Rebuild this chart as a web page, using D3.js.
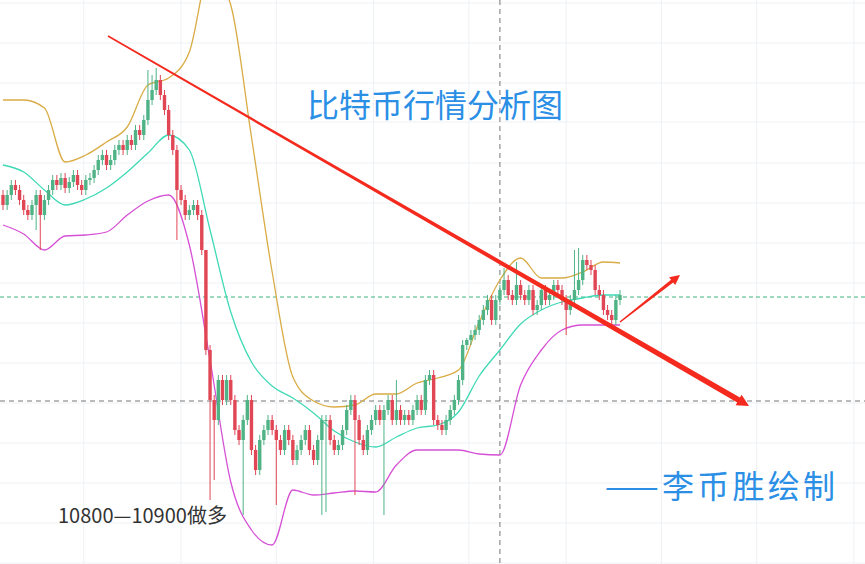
<!DOCTYPE html>
<html><head><meta charset="utf-8">
<script src="https://cdn.jsdelivr.net/npm/d3@7"></script>
<style>body{margin:0;background:#fff}svg{display:block}</style>
</head><body>
<svg id="c" width="865" height="564"></svg>
<script>
// price level = BASE - value ; values below are distance below the top price
const BASE = 11436;
const closeDepth = [205,195,185,190,200,210,215,205,195,215,
 200,190,180,185,178,188,182,175,185,190,180,178,
 170,160,155,165,160,150,145,150,140,145,130,135,
 120,100,90,80,95,110,
 135,150,190,200,215,210,205,215,
 250,350,400,420,380,400,
 380,400,430,440,420,400,450,470,440,430,420,
 430,440,450,430,440,460,450,440,430,450,460,440,420,420,440,450,445,
 430,410,400,420,440,450,430,420,410,420,410,400,420,
 410,420,415,420,410,400,410,380,375,420,425,
 430,420,410,400,380,345,340,335,
 330,320,310,300,320,300,290,280,295,300,285,
 295,300,290,310,305,290,300,295,285,290,300,310,
 300,290,280,260,265,270,290,295,310,315,320,300,295];
const firstOpenDepth = 195;
const highOverride = {35:70,36:75,37:68,49:340,95:380,104:370,112:338,121:268,124:262,138:250,139:248};
const lowOverride = {9:250,8:230,42:240,50:500,51:480,58:515,66:505,77:515,78:512,92:515,85:495,136:335};
const bandIdx = [0,5,10,15,20,25,30,35,40,45,50,55,60,65,70,75,80,85,90,95,100,105,110,115,120,125,130,135,140,145,149];
const upperDepth = [100,100,108,162,155,142,127,85,78,52,-30,5,137,272,377,401,407,405,394,394,383,378,370,322,280,258,278,278,272,262,263];
const midDepth = [165,172,190,205,199,188,172,153,135,150,230,312,362,386,398,413,431,442,447,437,428,425,412,376,350,324,310,302,298,295,295];
const lowerDepth = [225,234,250,236,235,232,215,201,195,245,360,482,530,545,490,495,493,491,492,465,450,450,450,454,455,385,350,330,325,325,325];
const hLevels = [11433,11393,11353,11314,11273,11233,11193,11153,11113,11073,11033,10993,10953,10913,10873];
const vTimes = [19.5,43,66,89.5,112.5,136,159,182,205.5];

const svg = d3.select("#c");
const x = d3.scaleLinear().domain([0, 149]).range([3, 620]);
const y = d3.scaleLinear().domain([BASE, BASE-564]).range([0, 564]);
const P = v => BASE - v;

svg.append("g").selectAll("line").data(hLevels).join("line")
 .attr("x1",0).attr("x2",865).attr("y1",d=>y(d)).attr("y2",d=>y(d)).attr("stroke","#eef1f4");
svg.append("g").selectAll("line").data(vTimes).join("line")
 .attr("y1",0).attr("y2",564).attr("x1",d=>x(d)).attr("x2",d=>x(d)).attr("stroke","#eef1f4");
svg.append("line").attr("x1",x(120)).attr("x2",x(120)).attr("y1",0).attr("y2",564).attr("stroke","#777").attr("stroke-dasharray","5,4");
svg.append("line").attr("x1",0).attr("x2",865).attr("y1",y(P(401))).attr("y2",y(P(401))).attr("stroke","#777").attr("stroke-dasharray","5,4");
svg.append("line").attr("x1",0).attr("x2",865).attr("y1",y(P(297))).attr("y2",y(P(297))).attr("stroke","#3cb47a").attr("stroke-dasharray","4,3");

const line = d3.line().x((d,i)=>x(bandIdx[i])).y(d=>y(P(d))).curve(d3.curveMonotoneX);
[[upperDepth,"#d9ac45"],[midDepth,"#3fd9b6"],[lowerDepth,"#d650d6"]].forEach(([a,c])=>{
 svg.append("path").attr("d",line(a)).attr("fill","none").attr("stroke",c).attr("stroke-width",1.3);
});

const candles = closeDepth.map((c,i)=>{
 const o = i===0?firstOpenDepth:closeDepth[i-1];
 const top = Math.min(o,c), bot = Math.max(o,c);
 return {i, o:P(o), c:P(c), h:P(highOverride[i]??top-5), l:P(lowOverride[i]??bot+5)};
});
const g = svg.append("g");
candles.forEach(d=>{
 const col = d.c>=d.o ? "#4fb386" : "#e14655";
 g.append("line").attr("x1",x(d.i)).attr("x2",x(d.i)).attr("y1",y(d.h)).attr("y2",y(d.l)).attr("stroke",col).attr("stroke-width",1);
 const y0=y(Math.max(d.o,d.c)), y1=y(Math.min(d.o,d.c));
 g.append("rect").attr("x",x(d.i)-1.7).attr("width",3.4).attr("y",y0).attr("height",Math.max(1,y1-y0)).attr("fill",col);
});

function arrow(x1,y1,x2,y2,w1,w2,hw,hl){
 const a=Math.atan2(y2-y1,x2-x1), nx=-Math.sin(a), ny=Math.cos(a);
 const bx=x2-hl*Math.cos(a), by=y2-hl*Math.sin(a);
 const pts=[[x1+nx*w1/2,y1+ny*w1/2],[bx+nx*w2/2,by+ny*w2/2],[bx+nx*hw/2,by+ny*hw/2],[x2,y2],
  [bx-nx*hw/2,by-ny*hw/2],[bx-nx*w2/2,by-ny*w2/2],[x1-nx*w1/2,y1-ny*w1/2]];
 svg.append("path").attr("d",d3.line()(pts)+"Z").attr("fill","#f42a1e");
}
arrow(108,36,749,406,1.5,5.5,12,12);
arrow(620,322,680,275,1.5,3.5,10,10);

svg.append("text").attr("x",307).attr("y",117).attr("font-size",32).attr("fill","#2b8fe6")
 .attr("font-family","Noto Sans CJK SC").text("比特币行情分析图");
svg.append("text").attr("x",605).attr("y",498).attr("font-size",32).attr("fill","#2b8fe6")
 .attr("font-family","Noto Sans CJK SC").attr("textLength",230).text("——李币胜绘制");
svg.append("text").attr("x",58).attr("y",523).attr("font-size",20).attr("fill","#333")
 .attr("font-family","Noto Sans CJK SC").text("10800—10900做多");
</script></body></html>
